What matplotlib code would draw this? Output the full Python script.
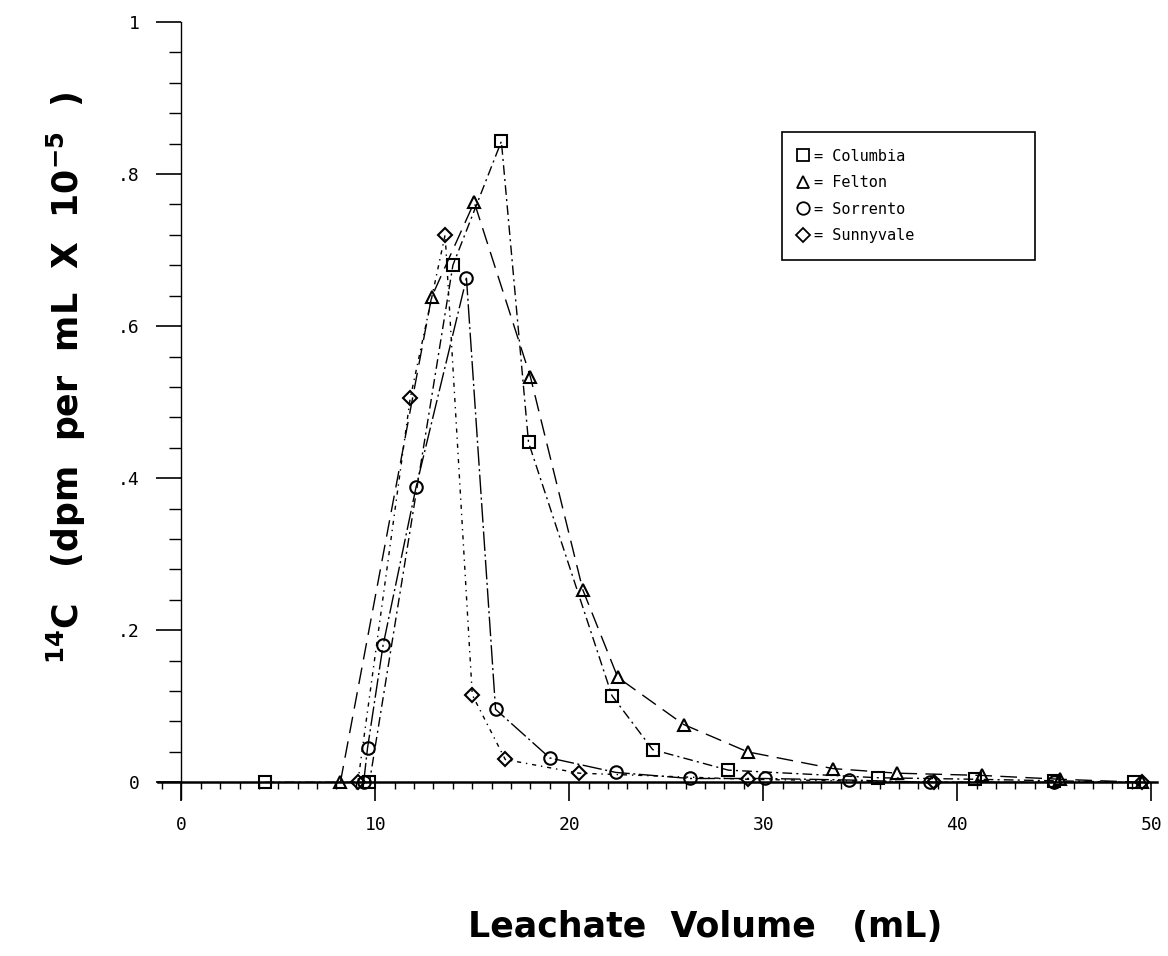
import matplotlib

matplotlib.use("Agg")
import matplotlib.pyplot as plt
from matplotlib.lines import Line2D
from matplotlib.ticker import MultipleLocator

# leachate volume (mL) and 14C activity (dpm per mL x 10^-5)
columbia_x = [4.3, 9.7, 14.0, 16.5, 17.9, 22.2, 24.3, 28.2, 35.9, 40.9, 45.0, 49.1]
columbia_y = [0.0, 0.0, 0.68, 0.843, 0.447, 0.114, 0.043, 0.016, 0.006, 0.004, 0.002, 0.0]

felton_x = [8.2, 12.9, 15.1, 18.0, 20.7, 22.5, 25.9, 29.2, 33.6, 36.9, 41.3, 45.3, 49.5]
felton_y = [0.0, 0.638, 0.763, 0.533, 0.253, 0.138, 0.076, 0.04, 0.018, 0.012, 0.009, 0.004, 0.0]

sorrento_x = [9.4, 9.6, 10.4, 12.1, 14.7, 16.2, 19.0, 22.4, 26.2, 30.1, 34.4, 38.6, 45.0]
sorrento_y = [0.0, 0.045, 0.18, 0.388, 0.663, 0.096, 0.032, 0.013, 0.005, 0.005, 0.003, 0.0, 0.0]

sunnyvale_x = [9.1, 11.8, 13.6, 15.0, 16.7, 20.5, 29.2, 38.8, 49.5]
sunnyvale_y = [0.0, 0.505, 0.72, 0.115, 0.03, 0.012, 0.004, 0.0, 0.0]

soil_names = ["Columbia", "Felton", "Sorrento", "Sunnyvale"]
x_ticks = [0, 10, 20, 30, 40, 50]
x_tick_labels = ["0", "10", "20", "30", "40", "50"]
y_ticks = [0.0, 0.2, 0.4, 0.6, 0.8, 1.0]
y_tick_labels = ["0", ".2", ".4", ".6", ".8", "1"]

series = [
    (columbia_x, columbia_y, "s", 8.5, (7, 3, 1.5, 3)),
    (felton_x, felton_y, "^", 9, (12, 6)),
    (sorrento_x, sorrento_y, "o", 9, (14, 2.5, 1.5, 2.5)),
    (sunnyvale_x, sunnyvale_y, "D", 7, (3, 3.5, 1, 3.5)),
]

fig = plt.figure(figsize=(11.68, 9.56), dpi=100)
ax = fig.add_axes([0.1353, 0.1642, 0.8553, 0.8128])

for xs, ys, marker, size, dash in series:
    ax.plot(xs, ys, color="black", lw=1.0, dashes=dash, marker=marker, ms=size,
            mfc="none", mec="black", mew=1.5)

ax.set_xlim(-1.2, 50.3)
ax.set_ylim(-0.022, 1.0)

for side in ("top", "right"):
    ax.spines[side].set_visible(False)
ax.spines["left"].set_position(("data", 0))
ax.spines["bottom"].set_position(("data", 0))
ax.spines["left"].set_linewidth(1.0)
ax.spines["bottom"].set_linewidth(1.8)

ax.set_xticks(x_ticks)
ax.set_xticklabels(x_tick_labels)
ax.set_yticks(y_ticks)
ax.set_yticklabels(y_tick_labels)
ax.xaxis.set_minor_locator(MultipleLocator(1))
ax.yaxis.set_minor_locator(MultipleLocator(0.04))

ax.tick_params(axis="x", which="major", direction="out", length=14, width=1.2, pad=10)
ax.tick_params(axis="x", which="minor", direction="out", length=5, width=1.0)
ax.tick_params(axis="y", which="major", direction="out", length=18, width=1.2, pad=12)
ax.tick_params(axis="y", which="minor", direction="out", length=8.5, width=1.0)
for lab in ax.get_xticklabels() + ax.get_yticklabels():
    lab.set_fontfamily("DejaVu Sans Mono")
    lab.set_fontsize(13)

fig.text(0.604, 1 - 927 / 956, "Leachate  Volume   (mL)", ha="center", va="center",
         fontsize=25, fontweight="bold")
fig.text(0.0565, 1 - 378 / 956,
         r"$^{\mathbf{14}}$C   (dpm  per  mL  X  10$^{\mathbf{-5}}$  )",
         ha="center", va="center", rotation=90, fontsize=25, fontweight="bold")

handles = [Line2D([], [], ls="none", marker=m, ms=s, mfc="none", mec="black", mew=1.3)
           for _, _, m, s, _ in series]
labels = ["= " + name for name in soil_names]
leg = ax.legend(handles, labels, loc="upper left",
                bbox_to_anchor=(0.6695, 0.7249, 0.2166, 0.1371),
                bbox_transform=fig.transFigure, mode="expand", borderaxespad=0,
                frameon=True, fancybox=False, edgecolor="black", framealpha=1,
                prop={"family": "DejaVu Sans Mono", "size": 11},
                handlelength=0.6, handletextpad=0.4, labelspacing=0.75, borderpad=1.1)
leg.get_frame().set_linewidth(1.2)

fig.savefig("out.png", dpi=100)
